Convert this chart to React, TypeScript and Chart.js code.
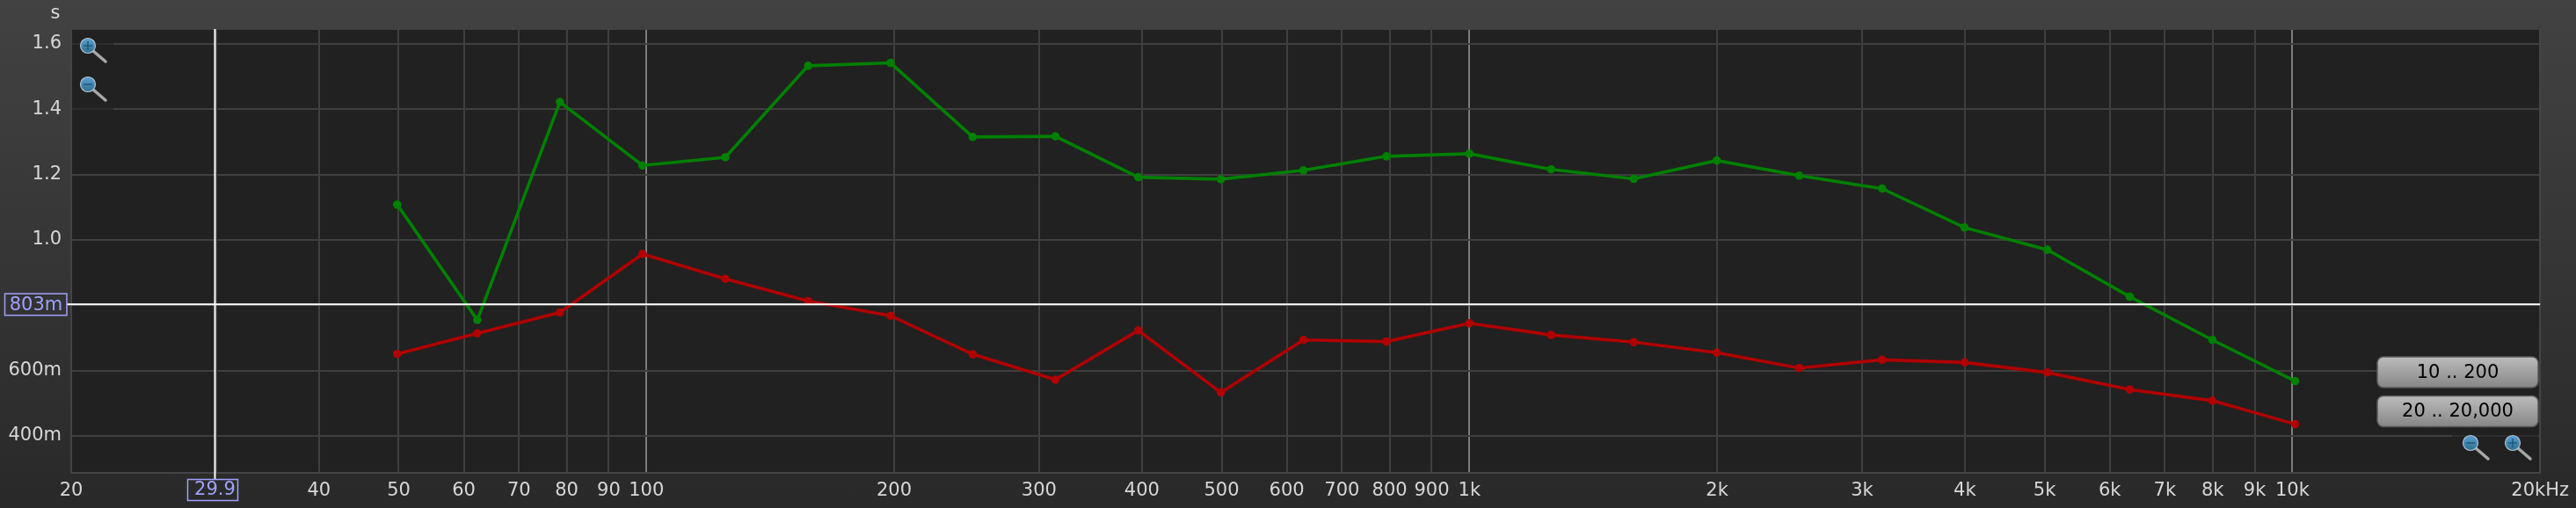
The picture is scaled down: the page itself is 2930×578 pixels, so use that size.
import React, { useEffect, useRef } from "react";
import { Chart, registerables } from "chart.js";

Chart.register(...registerables);

const frequencies = [49.8, 62.3, 78.5, 98.9, 124.7, 157.2, 198, 249.2, 314, 396, 499, 628.5, 793, 1000, 1257, 1584, 1998, 2516, 3174, 3996, 5038, 6346, 7995, 10079];
const greenValues = [1.108, 0.755, 1.422, 1.228, 1.253, 1.533, 1.542, 1.315, 1.317, 1.192, 1.186, 1.213, 1.256, 1.264, 1.216, 1.187, 1.243, 1.197, 1.157, 1.038, 0.97, 0.826, 0.694, 0.568];
const redValues = [0.651, 0.714, 0.778, 0.957, 0.881, 0.813, 0.768, 0.65, 0.572, 0.723, 0.533, 0.694, 0.689, 0.745, 0.709, 0.687, 0.655, 0.608, 0.633, 0.625, 0.594, 0.542, 0.508, 0.436];

const xTickValues = [20, 30, 40, 50, 60, 70, 80, 90, 100, 200, 300, 400, 500, 600, 700, 800, 900, 1000, 2000, 3000, 4000, 5000, 6000, 7000, 8000, 9000, 10000, 20000];
const xTickLabels = ["20", "", "40", "50", "60", "70", "80", "90", "100", "200", "300", "400", "500", "600", "700", "800", "900", "1k", "2k", "3k", "4k", "5k", "6k", "7k", "8k", "9k", "10k", "20kHz"];
const yTickValues = [0.4, 0.6, 0.8, 1.0, 1.2, 1.4, 1.6];
const yTickLabels = ["400m", "600m", "", "1.0", "1.2", "1.4", "1.6"];
const decadeLines = [100, 1000, 10000];

const cursorX = 29.9;
const cursorY = 0.803;
const cursorXLabel = "29.9";
const cursorYLabel = "803m";
const yUnit = "s";
const buttonLabels = ["10 .. 200", "20 .. 20,000"];

const FONT = "'DejaVu Sans'";

function magnifier(ctx: CanvasRenderingContext2D, cx: number, cy: number, plus: boolean) {
  ctx.save();
  ctx.lineCap = "round";
  ctx.strokeStyle = "#a8a8a8";
  ctx.lineWidth = 3.5;
  ctx.beginPath();
  ctx.moveTo(cx + 6, cy + 6);
  ctx.lineTo(cx + 20, cy + 18);
  ctx.stroke();
  const g = ctx.createLinearGradient(0, cy - 8, 0, cy + 8);
  g.addColorStop(0, "#5a9fd0");
  g.addColorStop(1, "#2f6f8f");
  ctx.fillStyle = g;
  ctx.strokeStyle = "#b4c4d4";
  ctx.lineWidth = 1.2;
  ctx.beginPath();
  ctx.arc(cx, cy, 8.5, 0, Math.PI * 2);
  ctx.fill();
  ctx.stroke();
  ctx.strokeStyle = "#1f5a80";
  ctx.lineWidth = 1.6;
  ctx.lineCap = "butt";
  ctx.beginPath();
  ctx.moveTo(cx - 5, cy);
  ctx.lineTo(cx + 5, cy);
  if (plus) {
    ctx.moveTo(cx, cy - 5);
    ctx.lineTo(cx, cy + 5);
  }
  ctx.stroke();
  ctx.restore();
}

function button(ctx: CanvasRenderingContext2D, x: number, y: number, w: number, h: number, label: string) {
  ctx.save();
  const g = ctx.createLinearGradient(0, y, 0, y + h);
  g.addColorStop(0, "#bcbcbc");
  g.addColorStop(1, "#868686");
  ctx.fillStyle = g;
  ctx.strokeStyle = "#5a5a5a";
  ctx.lineWidth = 1.5;
  ctx.beginPath();
  ctx.roundRect(x, y, w, h, 7);
  ctx.fill();
  ctx.stroke();
  ctx.fillStyle = "#000";
  ctx.font = `21px ${FONT}`;
  ctx.textAlign = "center";
  ctx.textBaseline = "middle";
  ctx.fillText(label, x + w / 2, y + h / 2 + 1);
  ctx.restore();
}

const chromePlugin = {
  id: "chrome",
  beforeDraw(chart: any) {
    const { ctx, width, height, chartArea: a } = chart;
    const g = ctx.createLinearGradient(0, 0, 0, height);
    g.addColorStop(0, "#424242");
    g.addColorStop(1, "#292929");
    ctx.fillStyle = g;
    ctx.fillRect(0, 0, width, height);
    ctx.fillStyle = "#212121";
    ctx.fillRect(a.left, a.top, a.right - a.left, a.bottom - a.top);
  },
  beforeDatasetsDraw(chart: any) {
    const { ctx, chartArea: a } = chart;
    ctx.save();
    ctx.fillStyle = "rgba(33,33,33,0.6)";
    ctx.fillRect(a.left + 1, a.top + 4, 47, 90);
    ctx.fillRect(a.right - 100, a.bottom - 46, 98, 44);
    ctx.strokeStyle = "#444444";
    ctx.lineWidth = 2;
    ctx.beginPath();
    ctx.moveTo(a.left, a.top);
    ctx.lineTo(a.left, a.bottom);
    ctx.lineTo(a.right, a.bottom);
    ctx.lineTo(a.right, a.top);
    ctx.stroke();
    ctx.restore();
  },
  afterDatasetsDraw(chart: any) {
    const { ctx, chartArea: a, scales } = chart;
    const px = scales.x.getPixelForValue(cursorX);
    const py = scales.y.getPixelForValue(cursorY);
    ctx.save();
    ctx.strokeStyle = "#ffffff";
    ctx.lineWidth = 2;
    ctx.beginPath();
    ctx.moveTo(px, a.top - 1);
    ctx.lineTo(px, a.bottom + 7);
    ctx.moveTo(a.left - 5, py);
    ctx.lineTo(a.right, py);
    ctx.stroke();

    ctx.strokeStyle = "#a0a0ff";
    ctx.fillStyle = "#a0a0ff";
    ctx.lineWidth = 1.5;
    ctx.strokeRect(px - 31, 545.5, 57, 24);
    ctx.strokeRect(5.5, py - 12, 70.5, 24.5);
    ctx.font = `21px ${FONT}`;
    ctx.textAlign = "center";
    ctx.textBaseline = "middle";
    ctx.fillText(cursorXLabel, px, 558);
    ctx.fillText(cursorYLabel, 41, py + 1);

    ctx.fillStyle = "#dcdcdc";
    ctx.fillText(yUnit, 63, 16);
    ctx.restore();

    magnifier(ctx, 100, 52, true);
    magnifier(ctx, 100, 96, false);
    magnifier(ctx, 2810, 504, false);
    magnifier(ctx, 2858, 504, true);
    button(ctx, 2704, 406, 183, 35, buttonLabels[0]);
    button(ctx, 2704, 450.5, 183, 35, buttonLabels[1]);
  },
};

export default function App() {
  const ref = useRef<HTMLCanvasElement>(null);

  useEffect(() => {
    const toPoints = (vals: number[]) => vals.map((y, i) => ({ x: frequencies[i], y }));
    const chart = new Chart(ref.current as HTMLCanvasElement, {
      type: "line",
      data: {
        datasets: [
          { label: "Green", data: toPoints(greenValues), borderColor: "#008000", backgroundColor: "#008000", borderWidth: 3.6, pointRadius: 4.8, pointBorderWidth: 0, tension: 0 },
          { label: "Red", data: toPoints(redValues), borderColor: "#b00000", backgroundColor: "#b00000", borderWidth: 3.6, pointRadius: 4.8, pointBorderWidth: 0, tension: 0 },
        ],
      },
      options: {
        animation: false,
        responsive: false,
        layout: { padding: { top: 34, right: 38, left: 0, bottom: 0 } },
        plugins: { legend: { display: false }, tooltip: { enabled: false } },
        scales: {
          x: {
            type: "logarithmic",
            min: 20,
            max: 20000,
            afterBuildTicks: (s: any) => {
              s.ticks = xTickValues.map((value) => ({ value }));
            },
            afterFit: (s: any) => {
              s.height = 40;
            },
            grid: {
              drawTicks: false,
              lineWidth: 2,
              color: (c: any) => (decadeLines.includes(c.tick?.value) ? "#7c7c7c" : "#3f3f3f"),
            },
            border: { display: false },
            ticks: {
              autoSkip: false,
              maxRotation: 0,
              minRotation: 0,
              padding: 8,
              color: "#d6d6d6",
              font: { family: "DejaVu Sans", size: 21 },
              callback: (v: any) => {
                const i = xTickValues.indexOf(Number(v));
                return i >= 0 ? xTickLabels[i] : "";
              },
            },
          },
          y: {
            type: "linear",
            min: 0.287,
            max: 1.643,
            afterBuildTicks: (s: any) => {
              s.ticks = yTickValues.map((value) => ({ value }));
            },
            afterFit: (s: any) => {
              s.width = 81;
            },
            grid: { drawTicks: false, lineWidth: 2, color: "#3f3f3f" },
            border: { display: false },
            ticks: {
              autoSkip: false,
              padding: 11,
              color: "#d6d6d6",
              font: { family: "DejaVu Sans", size: 21 },
              callback: (v: any) => {
                const i = yTickValues.findIndex((t) => Math.abs(t - Number(v)) < 1e-6);
                return i >= 0 ? yTickLabels[i] : "";
              },
            },
          },
        },
      } as any,
      plugins: [chromePlugin],
    });
    return () => chart.destroy();
  }, []);

  return (
    <div style={{ position: "fixed", left: 0, top: 0, width: 2930, height: 578 }}>
      <canvas ref={ref} width={2930} height={578} style={{ display: "block" }} />
    </div>
  );
}
